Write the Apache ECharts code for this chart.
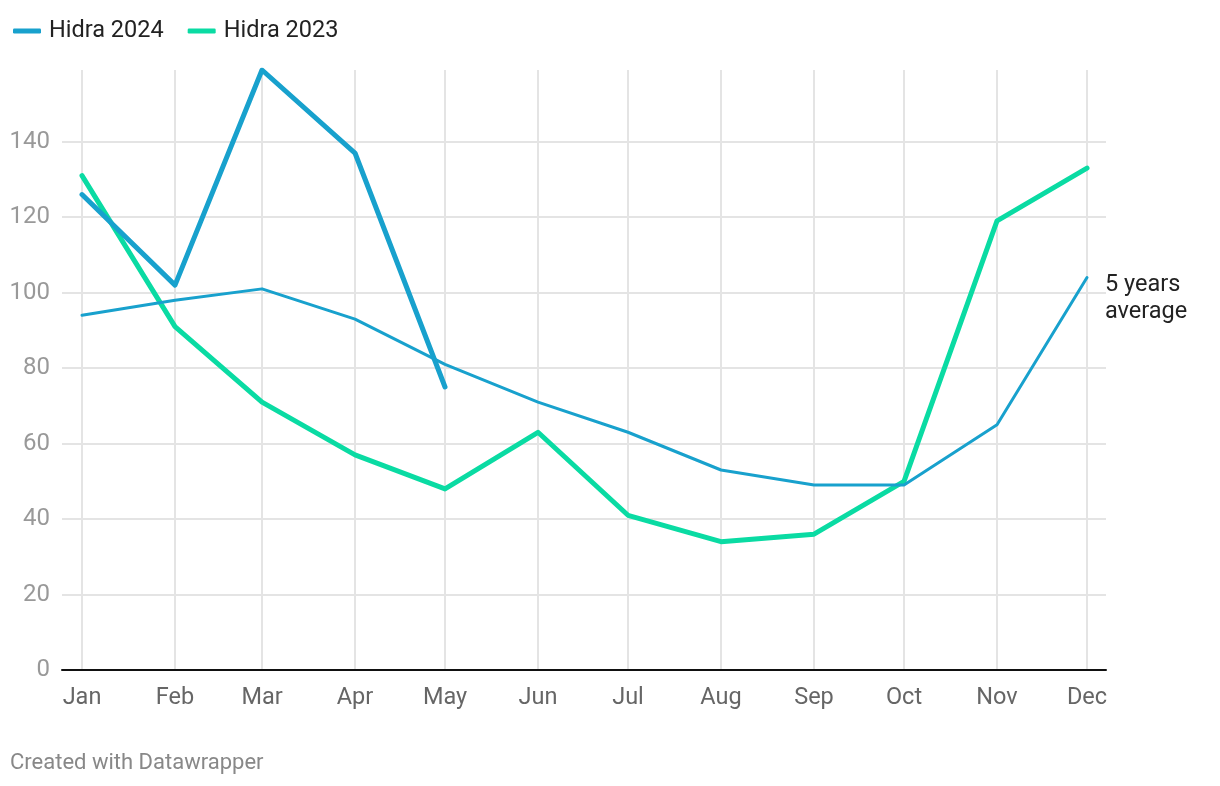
<!DOCTYPE html>
<html>
<head>
<meta charset="utf-8">
<script src="https://cdn.jsdelivr.net/npm/echarts@6/dist/echarts.min.js"></script>
<style>
html,body{margin:0;padding:0;background:#fff;}
#chart{width:1220px;height:786px;}
</style>
</head>
<body>
<div id="chart"></div>
<script>
const months = ['Jan','Feb','Mar','Apr','May','Jun','Jul','Aug','Sep','Oct','Nov','Dec'];
const hidra2024 = [126, 102, 159, 137, 75];
const hidra2023 = [131, 91, 71, 57, 48, 63, 41, 34, 36, 50, 119, 133];
const avg5 = [94, 98, 101, 93, 81, 71, 63, 53, 49, 49, 65, 104];
const yTicks = [0, 20, 40, 60, 80, 100, 120, 140];

const DAY = 864e5;
// day offset of each month start within the (leap) year 2024
const monthDay = months.map((m, i) => (Date.UTC(2024, i, 1) - Date.UTC(2024, 0, 1)) / DAY);
const pair = arr => arr.map((v, i) => [monthDay[i], v]);

const chart = echarts.init(document.getElementById('chart'));
const font = 'Roboto, "Noto Sans", sans-serif';

chart.setOption({
  animation: false,
  backgroundColor: '#fff',
  textStyle: { fontFamily: font },
  legend: {
    left: 8, top: 14,
    itemWidth: 28, itemHeight: 5, itemGap: 24,
    icon: 'roundRect',
    data: ['Hidra 2024', 'Hidra 2023'],
    textStyle: { fontSize: 23.5, color: '#222', fontFamily: font, padding: [0, 0, 0, 3] }
  },
  grid: { left: 62, right: 114, top: 70, bottom: 116 },
  xAxis: {
    type: 'value',
    min: monthDay[0] - 6.67,
    max: monthDay[11] + 6.33,
    axisLine: { show: true, onZero: false, lineStyle: { color: '#111', width: 2 } },
    axisTick: { show: false, customValues: monthDay },
    splitLine: { show: true, lineStyle: { color: '#e4e4e4', width: 2 } },
    axisLabel: {
      customValues: monthDay,
      formatter: v => months[monthDay.indexOf(v)] || '',
      color: '#666', fontSize: 23.5, margin: 16, fontFamily: font
    }
  },
  yAxis: {
    type: 'value',
    min: 0, max: 159,
    axisLine: { show: false },
    axisTick: { show: false, customValues: yTicks },
    splitLine: { show: true, lineStyle: { color: '#e4e4e4', width: 2 } },
    axisLabel: {
      customValues: yTicks,
      color: '#999', fontSize: 24, margin: 12, fontFamily: font
    }
  },
  series: [
    {
      name: 'Hidra 2023', type: 'line', data: pair(hidra2023),
      symbol: 'none', z: 2,
      lineStyle: { color: '#0adba3', width: 5, cap: 'round', join: 'round' },
      itemStyle: { color: '#0adba3' }
    },
    {
      name: 'Hidra 2024', type: 'line', data: pair(hidra2024),
      symbol: 'none', z: 3,
      lineStyle: { color: '#18a1cd', width: 5, cap: 'round', join: 'round' },
      itemStyle: { color: '#18a1cd' }
    },
    {
      name: '5 years average', type: 'line', data: pair(avg5),
      symbol: 'none', z: 4,
      lineStyle: { color: '#18a1cd', width: 3, cap: 'round', join: 'round' },
      itemStyle: { color: '#18a1cd' },
      endLabel: {
        show: true, formatter: '5 years\naverage',
        color: '#222', fontSize: 23.5, lineHeight: 27, distance: 18,
        offset: [0, 21], fontFamily: font
      }
    }
  ],
  graphic: [{
    type: 'text', left: 10, top: 752,
    style: { text: 'Created with Datawrapper', fill: '#888', fontSize: 22, fontFamily: font }
  }]
});
</script>
</body>
</html>
